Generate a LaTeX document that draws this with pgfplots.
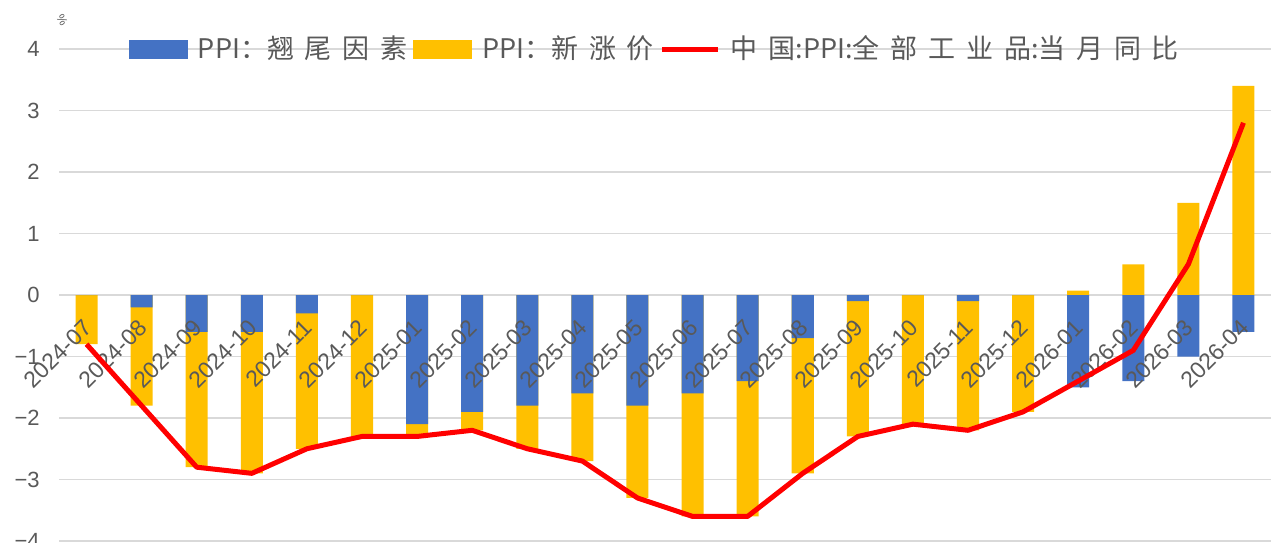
\documentclass[border=0pt]{standalone}
\usepackage{fontspec}
\setmainfont{Liberation Sans}
\newfontfamily\cjk{Noto Sans CJK SC}
\newfontfamily\cjks{Noto Sans CJK SC}[LetterSpace=40]
\usepackage{pgfplots}
\usepackage{pgfplotstable}
\pgfplotsset{compat=1.18}
\definecolor{cblue}{HTML}{4472C4}
\definecolor{corange}{HTML}{FFC000}
\definecolor{cred}{HTML}{FF0000}
\definecolor{cgrid}{HTML}{D9D9D9}
\definecolor{ctext}{HTML}{595959}

\pgfplotsset{
  geom/.style={
    at={(29.5pt,0.5pt)}, anchor=south west,
    scale only axis, width=606pt, height=246pt,
    xmin=-0.5, xmax=21.5, ymin=-4, ymax=4,
    clip=false,
  },
}

\pgfplotstableread{
x blue orange total
0  0    -0.8  -0.8
1  -0.2 -1.6  -1.8
2  -0.6 -2.2  -2.8
3  -0.6 -2.3  -2.9
4  -0.3 -2.2  -2.5
5  0    -2.3  -2.3
6  -2.1 -0.2  -2.3
7  -1.9 -0.3  -2.2
8  -1.8 -0.7  -2.5
9  -1.6 -1.1  -2.7
10 -1.8 -1.5  -3.3
11 -1.6 -2.0  -3.6
12 -1.4 -2.2  -3.6
13 -0.7 -2.2  -2.9
14 -0.1 -2.2  -2.3
15 0    -2.1  -2.1
16 -0.1 -2.1  -2.2
17 0    -1.9  -1.9
18 -1.5 0.07  -1.4
19 -1.4 0.5   -0.9
20 -1.0 1.5   0.5
21 -0.6 3.4   2.8
}\data

\begin{document}
\begin{tikzpicture}
% axis 1: grid, y labels, zero line, bars
\begin{axis}[
  geom,
  axis x line=middle, axis y line=left,
  x axis line style={-, draw=cgrid, line width=0.6pt},
  y axis line style={draw=none},
  ytick={-4,-3,-2,-1,0,1,2,3,4},
  yticklabels={−4,−3,−2,−1,0,1,2,3,4},
  ytick style={draw=none},
  ymajorgrids, grid style={cgrid, line width=0.6pt},
  xtick=\empty,
  minor xtick={-0.5,0.5,...,21.5},
  minor x tick style={draw=cgrid, line width=0.6pt},
  minor tick length=5pt,
  every tick label/.append style={font=\fontsize{11}{13}\selectfont, text=ctext},
  yticklabel style={anchor=east, xshift=-4pt},
]
\addplot[ybar, bar width=0.4, bar shift=0pt, fill=corange, draw=none]
  table[x=x, y expr={\thisrow{orange}<0 ? \thisrow{blue}+\thisrow{orange} : \thisrow{orange}}] {\data};
\addplot[ybar, bar width=0.4, bar shift=0pt, fill=cblue, draw=none]
  table[x=x, y=blue] {\data};
\end{axis}
% axis 2: x labels over bars, line, legend
\begin{axis}[
  geom,
  axis x line=middle, axis y line=none,
  x axis line style={draw=none},
  ytick=\empty,
  xtick={0,...,21},
  xticklabels={2024-07,2024-08,2024-09,2024-10,2024-11,2024-12,2025-01,2025-02,2025-03,2025-04,2025-05,2025-06,2025-07,2025-08,2025-09,2025-10,2025-11,2025-12,2026-01,2026-02,2026-03,2026-04},
  xtick style={draw=none},
  xticklabel style={xshift=3pt, yshift=-10pt, rotate=45, anchor=east, text=ctext, font=\fontsize{11.5}{13}\selectfont},
  legend style={at={(0.4926,1)}, anchor=center, legend columns=3, draw=none, fill=none,
    font=\cjk\fontsize{13.5}{15}\selectfont, text=ctext,
    /tikz/every even column/.append style={column sep=1pt}},
  legend cell align=left,
]
\addlegendimage{legend image code/.code={\fill[cblue] (0pt,-4.5pt) rectangle (29pt,4.5pt); \path (32pt,0pt);}}
\addlegendentry{PPI：{\cjks 翘尾因素}}
\addlegendimage{legend image code/.code={\fill[corange] (0pt,-4.5pt) rectangle (29pt,4.5pt); \path (32pt,0pt);}}
\addlegendentry{PPI：{\cjks 新涨价}}
\addplot[cred, line width=2.5pt, line join=round,
  legend image code/.code={\draw[cred, line width=2.5pt] (0pt,0pt) -- (28pt,0pt); \path (31pt,0pt);}]
  table[x=x, y=total] {\data};
\addlegendentry{{\cjks 中国}:PPI:{\cjks 全部工业品}:{\cjks 当月同比}}
\end{axis}
\node[text=ctext, font=\fontsize{6}{7}\selectfont, rotate=-60] at (31pt,261pt) {\%};
\pgfresetboundingbox
\useasboundingbox (0,0) rectangle (640pt,271pt);
\end{tikzpicture}
\end{document}
